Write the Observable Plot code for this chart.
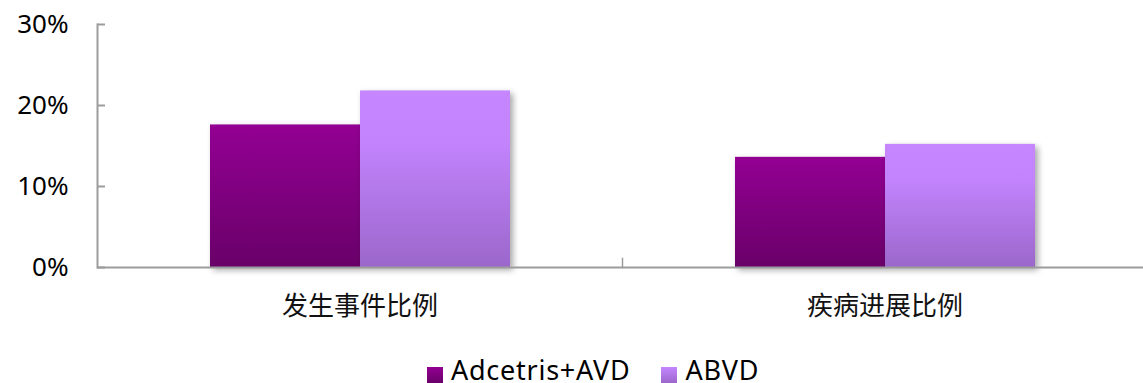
<!DOCTYPE html>
<html>
<head>
<meta charset="utf-8">
<script src="https://cdn.jsdelivr.net/npm/d3@7"></script>
<script src="https://cdn.jsdelivr.net/npm/@observablehq/plot@0.6"></script>
<style>
  body { margin: 0; background: #fff; font-family: "Noto Sans", "Noto Sans CJK SC", sans-serif; }
  #wrap { position: relative; width: 1143px; height: 383px; overflow: hidden; }
  #chart svg { display: block; max-width: none !important; }
  g[aria-label="bar"] rect { filter: drop-shadow(3px 3px 3px rgba(0,0,0,0.35)); }
  .legend { position: absolute; left: 427px; top: 357px; display: flex; font-size: 27px; line-height: 26px; color: #000; letter-spacing: 0.75px; white-space: nowrap; }
  .item { display: flex; align-items: flex-start; }
  .item + .item { margin-left: 31px; }
  .swatch { width: 16px; height: 16px; margin-top: 10px; margin-right: 8px; }
</style>
</head>
<body>
<svg width="0" height="0" style="position:absolute">
  <defs>
    <linearGradient id="gradA" x1="0" y1="0" x2="0" y2="1">
      <stop offset="0" stop-color="#930093"/>
      <stop offset="1" stop-color="#690069"/>
    </linearGradient>
    <linearGradient id="gradB" x1="0" y1="0" x2="0" y2="1">
      <stop offset="0" stop-color="#c586ff"/>
      <stop offset="0.3" stop-color="#c283fc"/>
      <stop offset="1" stop-color="#9b67cb"/>
    </linearGradient>
  </defs>
</svg>
<div id="wrap">
  <div id="chart"></div>
  <div class="legend" id="legend"></div>
</div>
<script>
// Event rates by treatment arm
const categories = ["发生事件比例", "疾病进展比例"];
const series = ["Adcetris+AVD", "ABVD"];
const adcetrisAVD = [0.176, 0.136];
const abvd = [0.218, 0.152];
const yTicks = [0, 0.1, 0.2, 0.3];

const fills = ["url(#gradA)", "url(#gradB)"];
const swatchCss = [
  "linear-gradient(#930093, #690069)",
  "linear-gradient(#c586ff, #9b67cb)"
];

const rows = categories.flatMap((c, i) => [
  {category: c, series: series[0], value: adcetrisAVD[i]},
  {category: c, series: series[1], value: abvd[i]}
]);

const axisGray = "#9c9c9c";

// The plotting area runs a little past the right edge of the page.
const chart = Plot.plot({
  width: 1147,
  height: 345,
  marginLeft: 97,
  marginRight: 0,
  marginTop: 24,
  marginBottom: 78,
  style: {fontFamily: '"Noto Sans", "Noto Sans CJK SC", sans-serif', fontSize: "26px", color: "#000", background: "transparent", overflow: "visible"},
  fx: {domain: categories, padding: 0, label: null},
  x: {domain: series, paddingInner: 0, paddingOuter: 0.75, axis: null},
  y: {domain: [0, 0.3], axis: null},
  color: {domain: series, range: fills},
  marks: [
    Plot.barY(rows, {fx: "category", x: "series", y: "value", fill: "series"}),
    Plot.ruleY([0], {stroke: axisGray, strokeWidth: 2}),
    Plot.frame({anchor: "left", facetAnchor: "left", stroke: axisGray, strokeWidth: 2}),
    Plot.frame({anchor: "left", facetAnchor: "right", stroke: axisGray, strokeWidth: 1.5, insetTop: 234}),
    Plot.axisY({ticks: yTicks, tickSize: -8, tickPadding: 37, tickFormat: d3.format(".0%"), stroke: axisGray, strokeWidth: 2, label: null, fill: "#000"}),
    Plot.axisFx({anchor: "bottom", tickSize: 0, tickPadding: 29, label: null, fill: "#111"})
  ]
});
document.getElementById("chart").append(chart);

const legend = document.getElementById("legend");
series.forEach((s, i) => {
  const item = document.createElement("div");
  item.className = "item";
  const sw = document.createElement("span");
  sw.className = "swatch";
  sw.style.background = swatchCss[i];
  const label = document.createElement("span");
  label.textContent = s;
  item.append(sw, label);
  legend.append(item);
});
</script>
</body>
</html>
